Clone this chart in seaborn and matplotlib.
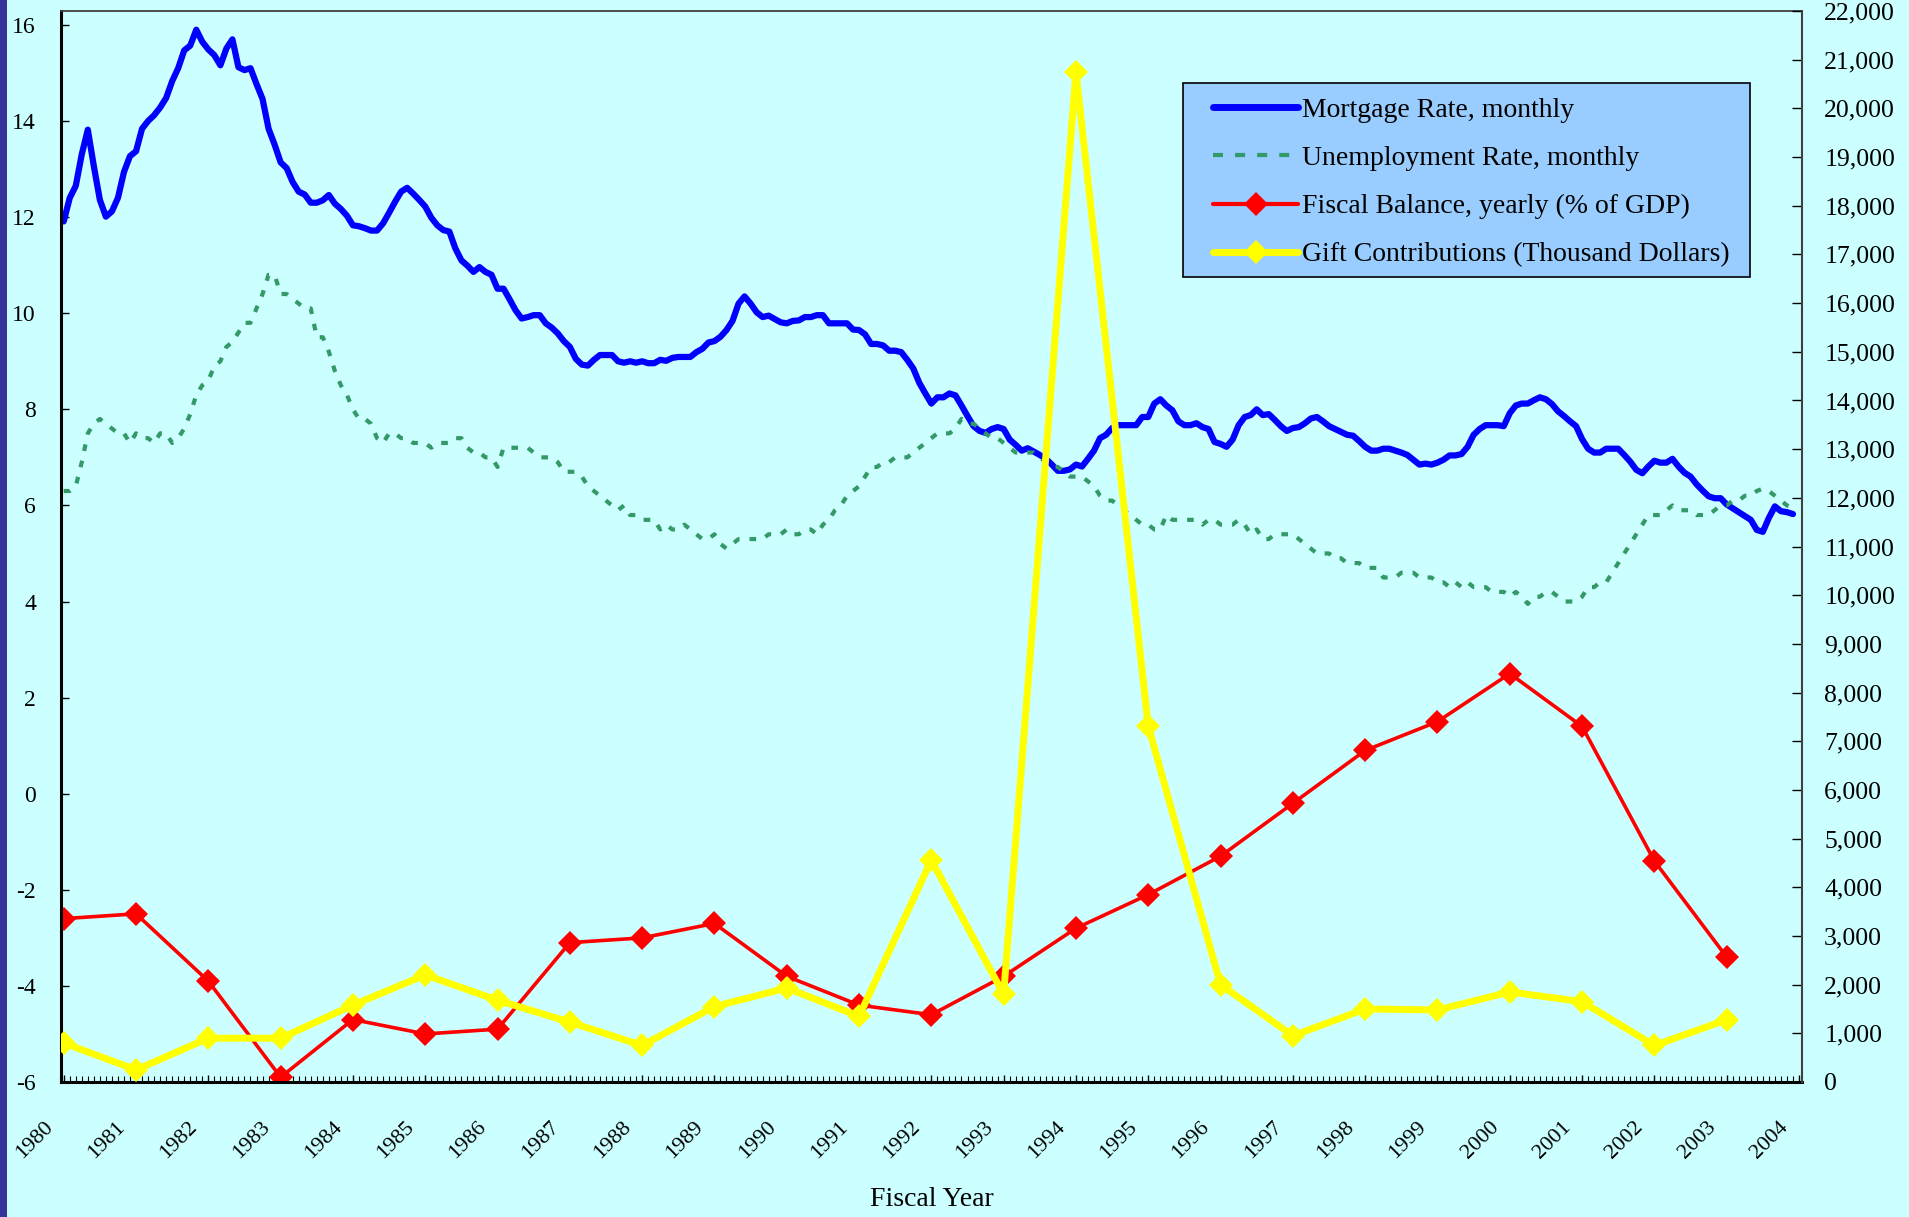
import numpy as np
import pandas as pd
import matplotlib
matplotlib.use("Agg")
import matplotlib.pyplot as plt
import matplotlib.transforms as mtransforms
import seaborn as sns
from matplotlib.lines import Line2D
from matplotlib.patches import Rectangle
from matplotlib.ticker import FuncFormatter, MultipleLocator

sns.set_theme(style="white")
plt.rcParams['font.family'] = ['Liberation Serif', 'DejaVu Serif']
plt.rcParams['axes.unicode_minus'] = False

# ---------------- data ----------------
year_labels = [str(y) for y in range(1980, 2005)]

mortgage = [
    11.91, 12.40, 12.65, 13.31, 13.82, 13.06, 12.36, 12.01, 12.12, 12.40, 12.94, 13.27,  # 1980
    13.37, 13.84, 14.00, 14.12, 14.28, 14.48, 14.83, 15.10, 15.47, 15.57, 15.90, 15.65,  # 1981
    15.49, 15.37, 15.16, 15.51, 15.70, 15.12, 15.06, 15.10, 14.77, 14.46, 13.84, 13.51,  # 1982
    13.14, 13.02, 12.73, 12.53, 12.47, 12.30, 12.30, 12.35, 12.46, 12.28, 12.17, 12.03,  # 1983
    11.83, 11.81, 11.77, 11.72, 11.72, 11.87, 12.09, 12.32, 12.53, 12.61, 12.49, 12.36,  # 1984
    12.22, 11.99, 11.83, 11.73, 11.70, 11.35, 11.10, 10.99, 10.86, 10.96, 10.86, 10.80,  # 1985
    10.51, 10.51, 10.29, 10.06, 9.89, 9.92, 9.96, 9.96, 9.79, 9.70, 9.58, 9.42,          # 1986
    9.30, 9.05, 8.93, 8.91, 9.03, 9.13, 9.13, 9.13, 9.00, 8.97, 9.00, 8.97,              # 1987
    9.00, 8.96, 8.96, 9.03, 9.01, 9.07, 9.09, 9.09, 9.09, 9.19, 9.26, 9.39,              # 1988
    9.42, 9.51, 9.65, 9.84, 10.20, 10.35, 10.20, 10.02, 9.92, 9.95, 9.88, 9.81,          # 1989
    9.79, 9.84, 9.85, 9.92, 9.92, 9.96, 9.96, 9.79, 9.79, 9.79, 9.79, 9.66,              # 1990
    9.65, 9.56, 9.36, 9.36, 9.33, 9.22, 9.22, 9.19, 9.03, 8.85, 8.55, 8.33,              # 1991
    8.12, 8.25, 8.25, 8.33, 8.29, 8.08, 7.86, 7.65, 7.55, 7.51, 7.59, 7.63,              # 1992
    7.59, 7.37, 7.26, 7.14, 7.19, 7.12, 7.05, 6.97, 6.85, 6.72, 6.72, 6.75,              # 1993
    6.85, 6.81, 6.97, 7.14, 7.40, 7.47, 7.61, 7.67, 7.67, 7.67, 7.67, 7.84,              # 1994
    7.84, 8.12, 8.21, 8.08, 7.98, 7.75, 7.67, 7.67, 7.71, 7.63, 7.59, 7.32,              # 1995
    7.28, 7.22, 7.37, 7.67, 7.84, 7.88, 8.00, 7.88, 7.90, 7.78, 7.65, 7.55,              # 1996
    7.61, 7.63, 7.71, 7.81, 7.84, 7.75, 7.65, 7.59, 7.53, 7.47, 7.45, 7.34,              # 1997
    7.22, 7.14, 7.14, 7.18, 7.18, 7.14, 7.10, 7.05, 6.95, 6.85, 6.87, 6.85,              # 1998
    6.89, 6.95, 7.04, 7.04, 7.07, 7.22, 7.47, 7.59, 7.67, 7.67, 7.67, 7.65,              # 1999
    7.92, 8.08, 8.12, 8.12, 8.19, 8.25, 8.21, 8.11, 7.96, 7.86, 7.75, 7.65,              # 2000
    7.38, 7.18, 7.10, 7.10, 7.18, 7.18, 7.18, 7.05, 6.91, 6.74, 6.67, 6.81,              # 2001
    6.93, 6.89, 6.89, 6.97, 6.81, 6.68, 6.60, 6.44, 6.31, 6.19, 6.15, 6.15,              # 2002
    6.02, 5.94, 5.86, 5.78, 5.70, 5.49, 5.45, 5.74, 5.98, 5.88, 5.86, 5.82,              # 2003
]

unemployment = [
    6.3, 6.3, 6.4, 6.9, 7.5, 7.7, 7.8, 7.7, 7.6, 7.5, 7.5, 7.3,        # 1980
    7.5, 7.4, 7.4, 7.3, 7.5, 7.5, 7.3, 7.4, 7.6, 7.9, 8.3, 8.5,        # 1981
    8.6, 8.9, 9.0, 9.3, 9.4, 9.6, 9.8, 9.8, 10.1, 10.4, 10.8, 10.8,    # 1982
    10.4, 10.4, 10.3, 10.2, 10.1, 10.1, 9.5, 9.5, 9.2, 8.8, 8.5, 8.3,  # 1983
    8.0, 7.8, 7.8, 7.7, 7.4, 7.3, 7.5, 7.5, 7.4, 7.4, 7.3, 7.3,        # 1984
    7.3, 7.2, 7.3, 7.3, 7.3, 7.4, 7.4, 7.2, 7.1, 7.1, 7.0, 7.0,        # 1985
    6.8, 7.2, 7.2, 7.2, 7.2, 7.2, 7.1, 7.0, 7.0, 7.0, 6.9, 6.7,        # 1986
    6.7, 6.7, 6.6, 6.4, 6.3, 6.2, 6.1, 6.0, 5.9, 6.0, 5.8, 5.8,        # 1987
    5.7, 5.7, 5.7, 5.5, 5.6, 5.5, 5.5, 5.6, 5.5, 5.4, 5.3, 5.3,        # 1988
    5.4, 5.2, 5.1, 5.2, 5.3, 5.3, 5.3, 5.3, 5.3, 5.4, 5.4, 5.4,        # 1989
    5.5, 5.4, 5.4, 5.5, 5.5, 5.4, 5.6, 5.7, 5.9, 6.0, 6.2, 6.3,        # 1990
    6.4, 6.6, 6.8, 6.8, 6.9, 6.9, 7.0, 7.0, 7.0, 7.1, 7.2, 7.3,        # 1991
    7.4, 7.5, 7.5, 7.5, 7.6, 7.8, 7.7, 7.7, 7.6, 7.5, 7.4, 7.4,        # 1992
    7.3, 7.2, 7.1, 7.1, 7.1, 7.1, 7.0, 6.9, 6.8, 6.8, 6.7, 6.6,        # 1993
    6.6, 6.6, 6.5, 6.4, 6.2, 6.1, 6.1, 6.0, 5.9, 5.8, 5.7, 5.6,        # 1994
    5.6, 5.5, 5.5, 5.8, 5.7, 5.7, 5.7, 5.7, 5.7, 5.6, 5.7, 5.7,        # 1995
    5.6, 5.6, 5.6, 5.7, 5.6, 5.4, 5.5, 5.3, 5.3, 5.4, 5.4, 5.4,        # 1996
    5.4, 5.3, 5.2, 5.1, 5.0, 5.0, 5.0, 4.9, 4.9, 4.8, 4.8, 4.8,        # 1997
    4.7, 4.7, 4.7, 4.5, 4.5, 4.5, 4.6, 4.6, 4.6, 4.5, 4.5, 4.5,        # 1998
    4.4, 4.4, 4.3, 4.4, 4.3, 4.4, 4.3, 4.3, 4.3, 4.2, 4.2, 4.2,        # 1999
    4.1, 4.2, 4.1, 3.95, 4.1, 4.1, 4.2, 4.2, 4.1, 4.0, 4.0, 4.0,       # 2000
    4.1, 4.3, 4.3, 4.4, 4.4, 4.6, 4.8, 5.0, 5.2, 5.4, 5.6, 5.8,        # 2001
    5.8, 5.8, 5.9, 6.0, 5.9, 5.9, 5.9, 5.8, 5.8, 5.8, 5.9, 6.0,        # 2002
    6.0, 6.1, 6.1, 6.2, 6.2, 6.3, 6.35, 6.3, 6.2, 6.1, 6.0, 5.95,      # 2003
]

fiscal_years = list(range(1980, 2004))
fiscal_balance = [-2.6, -2.5, -3.9, -5.9, -4.7, -5.0, -4.9, -3.1, -3.0, -2.7, -3.8, -4.4,
                  -4.6, -3.8, -2.8, -2.1, -1.3, -0.2, 0.9, 1.5, 2.5, 1.4, -1.4, -3.4]
gift = [800, 250, 900, 900, 1580, 2200, 1680, 1230, 750, 1550, 1930, 1350,
        4560, 1800, 20750, 7310, 2000, 950, 1500, 1480, 1850, 1650, 750, 1280]

series_names = ["Mortgage Rate, monthly", "Unemployment Rate, monthly",
                "Fiscal Balance, yearly (% of GDP)", "Gift Contributions (Thousand Dollars)"]

df_m = pd.DataFrame({"month": np.arange(len(mortgage)),
                     "mortgage": mortgage, "unemployment": unemployment})
df_y = pd.DataFrame({"month": (np.array(fiscal_years) - 1980) * 12,
                     "fiscal": fiscal_balance, "gift": gift})

# ---------------- styling ----------------
BG = "#CCFFFF"
BLUE = "#0000FF"
GREEN = "#339966"
RED = "#FF0000"
YELLOW = "#FFFF00"
DASH = (0, (1.6, 2.4))

W, H = 1909, 1217
fig = plt.figure(figsize=(W / 100, H / 100), dpi=100, facecolor=BG)
ax = fig.add_axes([61 / W, 1 - 1082 / H, (1802 - 61) / W, (1082 - 11) / H])
ax.set_facecolor(BG)
ax2 = ax.twinx()

sns.lineplot(data=df_m, x="month", y="mortgage", ax=ax, color=BLUE, lw=4.5,
             solid_capstyle="round", solid_joinstyle="round", legend=False, errorbar=None)
sns.lineplot(data=df_m, x="month", y="unemployment", ax=ax, color=GREEN, lw=3.0,
             linestyle=DASH, legend=False, errorbar=None)
sns.lineplot(data=df_y, x="month", y="fiscal", ax=ax, color=RED, lw=2.6,
             marker="D", markersize=12, markeredgewidth=0, markerfacecolor=RED,
             legend=False, errorbar=None)
sns.lineplot(data=df_y, x="month", y="gift", ax=ax2, color=YELLOW, lw=5,
             marker="D", markersize=12, markeredgewidth=0, markerfacecolor=YELLOW,
             legend=False, errorbar=None)

# x axis
ax.set_xlim(-0.45, 288.5)
ax.set_xticks(np.arange(0, 289, 12))
ax.set_xticklabels(year_labels, rotation=45, ha="right", va="top", fontsize=16)
ax.xaxis.set_minor_locator(MultipleLocator(1))
ax.tick_params(axis="x", which="major", direction="in", length=5, width=1,
               pad=26, colors="black", bottom=True, top=False)
ax.tick_params(axis="x", which="minor", direction="in", length=4, width=0.8,
               color="black", bottom=True, top=False)
shift = mtransforms.ScaledTranslation(-7 / 100, 0, fig.dpi_scale_trans)
for lbl in ax.get_xticklabels():
    lbl.set_transform(lbl.get_transform() + shift)

# left y axis
ax.set_ylim(-6, 16.29)
ax.set_yticks(np.arange(-6, 17, 2))
ax.yaxis.set_major_formatter(FuncFormatter(lambda v, p: f"{v:.0f}"))
ax.tick_params(axis="y", direction="in", length=6, width=1, pad=18,
               labelsize=17, colors="black", left=True, right=False)

# right y axis
ax2.set_ylim(0, 22000)
ax2.set_yticks(np.arange(0, 22001, 1000))
ax2.yaxis.set_major_formatter(FuncFormatter(lambda v, p: f"{v:,.0f}"))
ax2.tick_params(axis="y", direction="in", length=7, width=1, pad=16,
                labelsize=18.5, colors="black", right=True, left=False)

for a in (ax, ax2):
    a.set_xlabel("")
    a.set_ylabel("")
    a.grid(False)

for s in ("left", "bottom"):
    ax.spines[s].set_color("black")
    ax.spines[s].set_linewidth(2.2)
ax.spines["top"].set_color("#404040")
ax.spines["top"].set_linewidth(1.3)
ax.spines["right"].set_visible(False)
for s in ("left", "bottom", "top"):
    ax2.spines[s].set_visible(False)
ax2.spines["right"].set_color("#404040")
ax2.spines["right"].set_linewidth(1.5)

fig.text(931.5 / W, 1 - 1200 / H, "Fiscal Year", ha="center", va="center",
         fontsize=20, color="black")

# legend: frame drawn as a patch, entries as a frameless figure legend on top
fig.add_artist(Rectangle((1183 / W, 1 - 277 / H), 567 / W, 194 / H,
                         transform=fig.transFigure, facecolor="#99CCFF",
                         edgecolor="black", linewidth=1.2, zorder=4))
handles = [
    Line2D([], [], color=BLUE, lw=5, solid_capstyle="round"),
    Line2D([], [], color=GREEN, lw=3.0, linestyle=(0, (2.4, 2.9))),
    Line2D([], [], color=RED, lw=3.0, marker="D", markersize=12,
           markeredgewidth=0, markerfacecolor=RED),
    Line2D([], [], color=YELLOW, lw=5, marker="D", markersize=12,
           markeredgewidth=0, markerfacecolor=YELLOW),
]
leg = fig.legend(handles, series_names, loc="upper left",
                 bbox_to_anchor=(1213 / W, 1 - 97.5 / H),
                 bbox_transform=fig.transFigure, borderaxespad=0, borderpad=0,
                 frameon=False, fontsize=20, handlelength=3.06,
                 handletextpad=0.15, labelspacing=0.82, numpoints=1)
leg.set_zorder(5)
for t in leg.get_texts():
    t.set_color("black")

# left border strip
fig.add_artist(Rectangle((0, 0), 7 / W, 1, transform=fig.transFigure,
                         facecolor="#333399", edgecolor="none", zorder=10))

fig.savefig("out.png", dpi=100, facecolor=BG)
